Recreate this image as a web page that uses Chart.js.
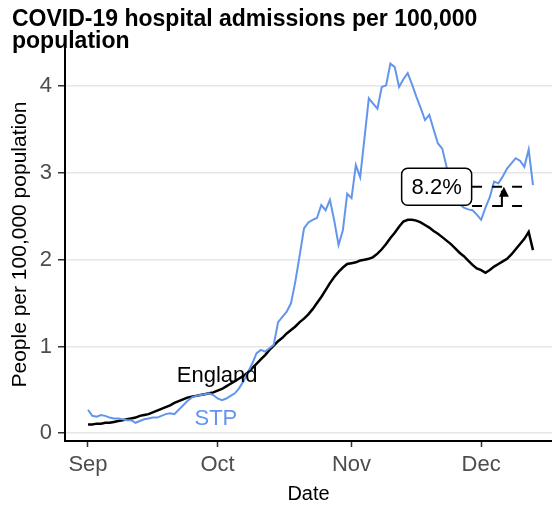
<!DOCTYPE html>
<html>
<head>
<meta charset="utf-8">
<script src="https://cdn.jsdelivr.net/npm/chart.js@4.4.1/dist/chart.umd.min.js"></script>
<style>
  html, body { margin: 0; padding: 0; background: #ffffff; }
  #wrap { width: 552px; height: 507px; }
</style>
</head>
<body>
<div id="wrap"><canvas id="c" width="552" height="507"></canvas></div>
<script>
// ---- Data (days since 1 Sep) ----
const titleLines = ["COVID-19 hospital admissions per 100,000", "population"];
const xTickDays = [0, 30, 61, 91];
const xTickLabels = ["Sep", "Oct", "Nov", "Dec"];
const yTicks = [0, 1, 2, 3, 4];

const stpValues = [
  0.27,0.20,0.19,0.21,0.20,0.18,0.17,0.17,0.16,0.15,
  0.15,0.12,0.14,0.16,0.17,0.18,0.18,0.20,0.22,0.23,
  0.22,0.27,0.32,0.37,0.41,0.43,0.44,0.45,0.46,0.44,
  0.40,0.38,0.40,0.43,0.46,0.52,0.60,0.70,0.80,0.92,
  0.96,0.94,0.98,1.02,1.28,1.34,1.40,1.50,1.75,2.05,
  2.36,2.43,2.46,2.48,2.63,2.57,2.69,2.45,2.17,2.34,
  2.76,2.71,3.09,2.95,3.40,3.86,3.80,3.74,3.99,4.01,
  4.26,4.22,3.99,4.08,4.15,4.02,3.88,3.75,3.61,3.67,
  3.50,3.34,3.28,3.07,2.80,2.70,2.64,2.60,2.58,2.57,
  2.52,2.46,2.60,2.72,2.90,2.88,2.96,3.05,3.11,3.17,
  3.14,3.07,3.27,2.86
];
const englandValues = [
  0.10,0.10,0.11,0.11,0.12,0.12,0.13,0.14,0.15,0.16,
  0.17,0.18,0.20,0.21,0.22,0.24,0.26,0.28,0.30,0.32,
  0.35,0.37,0.39,0.41,0.42,0.43,0.44,0.45,0.46,0.47,
  0.49,0.51,0.54,0.57,0.60,0.63,0.66,0.70,0.75,0.80,
  0.85,0.90,0.96,1.01,1.06,1.10,1.15,1.19,1.23,1.28,
  1.32,1.37,1.43,1.50,1.57,1.65,1.73,1.80,1.86,1.91,
  1.95,1.96,1.97,1.99,2.00,2.01,2.03,2.07,2.12,2.18,
  2.25,2.31,2.38,2.44,2.46,2.46,2.45,2.43,2.40,2.37,
  2.33,2.30,2.26,2.22,2.18,2.13,2.08,2.04,1.99,1.94,
  1.90,1.88,1.85,1.88,1.92,1.95,1.98,2.01,2.06,2.12,
  2.18,2.24,2.32,2.11
];

// line labels
const seriesLabels = ["England", "STP"];
const seriesLabelPos = [[29.9, 0.66], [29.6, 0.17]];

// annotation: change between two levels
const annText = "8.2%";
const annLow = 2.62;
const annHigh = 2.84;
const annXRange = [88.9, 101.2];
const annArrowX = 95.8;
const annBoxCenter = [80.7, 2.84];

const BLUE = "#6495ED";
const FONT = "'Liberation Sans', Arial, Helvetica, sans-serif";

const toPts = (vals) => vals.map((v, i) => ({ x: i, y: v }));

const annotationPlugin = {
  id: "annot",
  afterDatasetsDraw(chart) {
    const { ctx, scales: { x, y } } = chart;
    ctx.save();
    // line labels
    ctx.font = "22px " + FONT;
    ctx.textAlign = "center";
    ctx.textBaseline = "middle";
    ctx.fillStyle = "#000000";
    ctx.fillText(seriesLabels[0], x.getPixelForValue(seriesLabelPos[0][0]), y.getPixelForValue(seriesLabelPos[0][1]));
    ctx.fillStyle = BLUE;
    ctx.fillText(seriesLabels[1], x.getPixelForValue(seriesLabelPos[1][0]), y.getPixelForValue(seriesLabelPos[1][1]));

    // dashed level lines
    const x0 = x.getPixelForValue(annXRange[0]);
    const x1 = x.getPixelForValue(annXRange[1]);
    const yl = y.getPixelForValue(annLow);
    const yh = y.getPixelForValue(annHigh);
    ctx.strokeStyle = "#000000";
    ctx.lineWidth = 2;
    ctx.setLineDash([10, 10]);
    ctx.beginPath();
    ctx.moveTo(x0, yh); ctx.lineTo(x1, yh);
    ctx.moveTo(x0, yl); ctx.lineTo(x1, yl);
    ctx.stroke();
    ctx.setLineDash([]);
    // arrow
    const ax = x.getPixelForValue(annArrowX);
    ctx.beginPath();
    ctx.moveTo(ax - 7, yl); ctx.lineTo(ax, yl); ctx.lineTo(ax, yh + 4);
    ctx.stroke();
    ctx.fillStyle = "#000000";
    ctx.beginPath();
    ctx.moveTo(ax + 2, yh);
    ctx.lineTo(ax + 7, yh + 10);
    ctx.lineTo(ax - 3, yh + 10);
    ctx.closePath();
    ctx.fill();

    // label box
    const bx = x.getPixelForValue(annBoxCenter[0]);
    const by = y.getPixelForValue(annBoxCenter[1]);
    const bw = 70, bh = 37, r = 6;
    ctx.beginPath();
    ctx.roundRect(bx - bw / 2, by - bh / 2, bw, bh, r);
    ctx.fillStyle = "#ffffff";
    ctx.fill();
    ctx.lineWidth = 1.5;
    ctx.strokeStyle = "#000000";
    ctx.stroke();
    ctx.fillStyle = "#000000";
    ctx.font = "22px " + FONT;
    ctx.textAlign = "center";
    ctx.textBaseline = "middle";
    ctx.fillText(annText, bx, by + 1);
    ctx.restore();
  }
};

new Chart(document.getElementById("c"), {
  type: "line",
  data: {
    datasets: [
      { label: "STP", data: toPts(stpValues), borderColor: BLUE, borderWidth: 2, pointRadius: 0, tension: 0, fill: false },
      { label: "England", data: toPts(englandValues), borderColor: "#000000", borderWidth: 2.5, pointRadius: 0, tension: 0, fill: false }
    ]
  },
  options: {
    responsive: false,
    animation: false,
    devicePixelRatio: 1,
    layout: { padding: { left: 12, right: 0, top: 0, bottom: 0 } },
    plugins: {
      legend: { display: false },
      tooltip: { enabled: false },
      title: {
        display: true,
        text: titleLines,
        align: "start",
        color: "#000000",
        font: { family: FONT, size: 23, weight: "bold", lineHeight: 0.935 },
        padding: { top: 9, bottom: -4 }
      }
    },
    scales: {
      x: {
        type: "linear",
        min: -5.32,
        max: 107.4,
        afterBuildTicks: (s) => { s.ticks = xTickDays.map(v => ({ value: v })); },
        afterFit: (s) => { s.height = 66; },
        ticks: {
          autoSkip: false,
          maxRotation: 0,
          padding: 5,
          color: "#4D4D4D",
          font: { family: FONT, size: 22 },
          callback: (v) => { const i = xTickDays.indexOf(v); return i >= 0 ? xTickLabels[i] : ""; }
        },
        grid: { drawOnChartArea: false, drawTicks: true, tickLength: 6, tickColor: "#333333", tickWidth: 1.5 },
        border: { display: true, color: "#000000", width: 2 },
        title: { display: true, text: "Date", color: "#000000", font: { family: FONT, size: 20, lineHeight: 1.2 }, padding: { top: 0, bottom: 1 } }
      },
      y: {
        type: "linear",
        min: -0.09,
        max: 4.44,
        afterBuildTicks: (s) => { s.ticks = yTicks.map(v => ({ value: v })); },
        afterFit: (s) => { s.width = 53; },
        ticks: {
          padding: 6,
          color: "#4D4D4D",
          font: { family: FONT, size: 22 },
          callback: (v) => String(v)
        },
        grid: { color: "#E6E6E6", lineWidth: 1.5, drawTicks: true, tickLength: 7, tickColor: "#333333", tickWidth: 1.5 },
        border: { display: true, color: "#000000", width: 2 },
        title: { display: true, text: "People per 100,000 population", color: "#000000", font: { family: FONT, size: 21, lineHeight: 1.0 }, padding: { top: -2.5, bottom: 0 } }
      }
    }
  },
  plugins: [annotationPlugin]
});
</script>
</body>
</html>
